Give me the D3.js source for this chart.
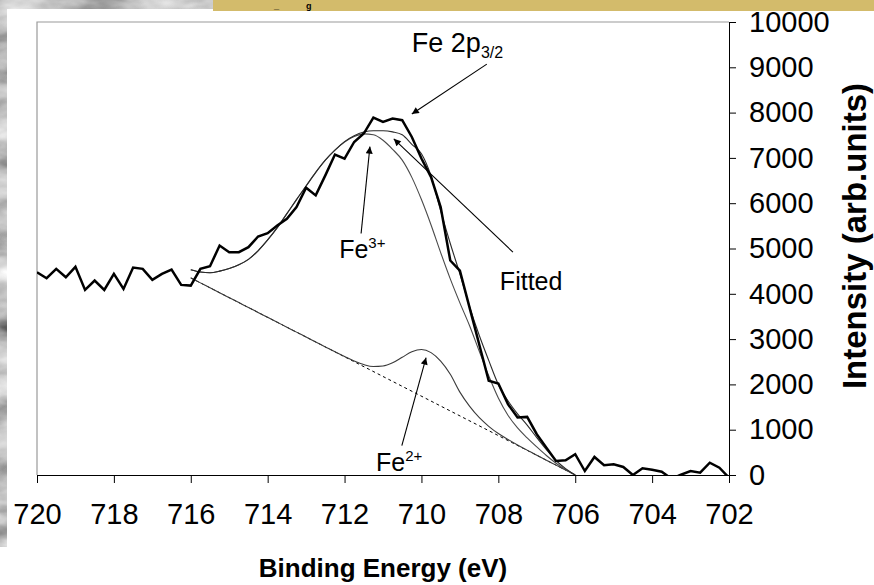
<!DOCTYPE html>
<html>
<head>
<meta charset="utf-8">
<script src="https://cdn.jsdelivr.net/npm/d3@7"></script>
<style>
  html, body { margin: 0; padding: 0; background: #ffffff; }
  svg { display: block; }
  text { font-family: "Liberation Sans", Arial, Helvetica, sans-serif; fill: #000; }
</style>
</head>
<body>
<svg id="chart" width="874" height="585"></svg>
<script>
// ---- Measured Fe 2p3/2 spectrum (binding energy in eV, intensity in arb. units) ----
const rawEnergy = [
  720, 719.75, 719.5, 719.25, 719, 718.75, 718.5, 718.25, 718, 717.75,
  717.5, 717.25, 717, 716.75, 716.5, 716.25, 716, 715.75, 715.5, 715.25,
  715, 714.75, 714.5, 714.25, 714, 713.75, 713.5, 713.25, 713, 712.75,
  712.5, 712.25, 712, 711.75, 711.5, 711.25, 711, 710.75, 710.5, 710.25,
  710, 709.75, 709.5, 709.25, 709, 708.75, 708.5, 708.25, 708, 707.75,
  707.5, 707.25, 707, 706.75, 706.5, 706.25, 706, 705.75, 705.5, 705.25,
  705, 704.75, 704.5, 704.25, 704, 703.75, 703.5, 703.25, 703, 702.75,
  702.5, 702.25, 702
];
const rawIntensity = [
  4476, 4343, 4551, 4365, 4595, 4086, 4292, 4086, 4440, 4108,
  4580, 4551, 4308, 4440, 4535, 4197, 4181, 4551, 4608, 5066,
  4918, 4918, 5029, 5265, 5338, 5509, 5657, 5914, 6343, 6173,
  6615, 7073, 6985, 7352, 7538, 7892, 7794, 7869, 7832, 7462,
  6985, 6577, 5914, 4735, 4513, 3701, 2892, 2080, 2020, 1564,
  1268, 1283, 900, 604, 310, 325, 458, 88, 398, 215,
  237, 177, 0, 148, 117, 73, -80, 5, 88, 51,
  272, 162, -60
];

// ---- Fit over 716 – 706 eV ----
const fitEnergy = [
  716, 715.75, 715.5, 715.25, 715, 714.75, 714.5, 714.25, 714, 713.75,
  713.5, 713.25, 713, 712.75, 712.5, 712.25, 712, 711.75, 711.5, 711.25,
  711, 710.75, 710.5, 710.25, 710, 709.75, 709.5, 709.25, 709, 708.75,
  708.5, 708.25, 708, 707.75, 707.5, 707.25, 707, 706.75, 706.5, 706.25,
  706
];
const fittedIntensity = [
  4530, 4480, 4465, 4500, 4560, 4640, 4760, 4950, 5190, 5460,
  5770, 6080, 6380, 6680, 6950, 7170, 7360, 7490, 7570, 7600,
  7600, 7575, 7510, 7300, 7090, 6600, 5830, 5110, 4440, 3720,
  3090, 2530, 2000, 1640, 1350, 1100, 825, 560, 320, 140,
  0
];
const fe3Intensity = [
  4530, 4480, 4465, 4500, 4560, 4640, 4760, 4950, 5190, 5460,
  5770, 6080, 6380, 6680, 6950, 7170, 7350, 7470, 7530, 7510,
  7390, 7190, 6950, 6570, 6080, 5520, 4910, 4330, 3800, 3300,
  2740, 2190, 1700, 1320, 1040, 820, 620, 430, 260, 120,
  0
];
const fe2Intensity = [
  4350, 4241, 4133, 4024, 3915, 3806, 3698, 3589, 3480, 3371,
  3263, 3154, 3045, 2936, 2828, 2719, 2615, 2516, 2438, 2394,
  2405, 2476, 2598, 2719, 2770, 2701, 2513, 2224, 1830, 1520,
  1270, 1075, 915, 785, 663, 549, 435, 326, 218, 109,
  0
];
// Linear background under the peak
const backgroundEnergy = [716, 706];
const backgroundIntensity = [4350, 0];

// ---- Axes ----
const xTicks = [720, 718, 716, 714, 712, 710, 708, 706, 704, 702];
const yTicks = [0, 1000, 2000, 3000, 4000, 5000, 6000, 7000, 8000, 9000, 10000];
const xTitle = "Binding Energy (eV)";
const yTitle = "Intensity (arb.units)";

// ---- Labels with arrows (anchor and arrow ends in data units) ----
const annotations = [
  { main: "Fe 2p", sub: "3/2", script: "sub", size: 27, tx: 710.25, ty: 9330,
    from: [708.3, 9070], to: [710.25, 7970] },
  { main: "Fe", sub: "3+", script: "sup", size: 25, tx: 712.14, ty: 4780,
    from: [711.57, 5330], to: [711.34, 7250] },
  { main: "Fitted", sub: "", script: "", size: 25, tx: 707.96, ty: 4080,
    from: [707.62, 4920], to: [710.72, 7420] },
  { main: "Fe", sub: "2+", script: "sup", size: 25, tx: 711.18, ty: 80,
    from: [710.51, 650], to: [709.88, 2590] }
];

// ---- Layout ----
const W = 874, H = 585;
const plot = { left: 37, right: 729, top: 22, bottom: 475 };

const svg = d3.select("#chart");
const defs = svg.append("defs");

// Marbled grey texture for the slide backdrop
const tex = defs.append("filter").attr("id", "marble")
  .attr("x", 0).attr("y", 0).attr("width", "100%").attr("height", "100%");
tex.append("feTurbulence").attr("type", "fractalNoise")
  .attr("baseFrequency", "0.015 0.035").attr("numOctaves", 4).attr("seed", 11).attr("result", "n");
tex.append("feColorMatrix").attr("in", "n").attr("type", "matrix")
  .attr("values", "0.8 0.8 0 0 -0.27  0.8 0.8 0 0 -0.27  0.8 0.8 0 0 -0.27  0 0 0 0 1");

svg.append("rect").attr("x", 0).attr("y", 0).attr("width", 214).attr("height", 9)
  .attr("filter", "url(#marble)");
svg.append("rect").attr("x", 0).attr("y", 0).attr("width", 7).attr("height", 547)
  .attr("filter", "url(#marble)");

// Title banner strip
svg.append("rect").attr("x", 213).attr("y", 0).attr("width", W - 213).attr("height", 11)
  .attr("fill", "#d3bb6b");
const bannerText = svg.append("text").attr("y", 9).attr("font-size", 9)
  .attr("font-weight", "bold").attr("fill", "#1e1e1e");
bannerText.append("tspan").attr("x", 274).text("_");
bannerText.append("tspan").attr("x", 306).text("g");

// Scales
const x = d3.scaleLinear().domain([720, 702]).range([plot.left, plot.right]);
const y = d3.scaleLinear().domain([0, 10000]).range([plot.bottom, plot.top]);

// Plot frame (top and left edges in grey)
svg.append("path")
  .attr("d", `M${plot.left},${plot.bottom} V${plot.top} H${plot.right}`)
  .attr("fill", "none").attr("stroke", "#9a9a9a").attr("stroke-width", 1.2);

defs.append("clipPath").attr("id", "plotClip").append("rect")
  .attr("x", plot.left).attr("y", plot.top)
  .attr("width", plot.right - plot.left).attr("height", plot.bottom - plot.top);

const g = svg.append("g").attr("clip-path", "url(#plotClip)");

const zip = (es, vs) => es.map((e, i) => [e, vs[i]]);
const smooth = d3.line().x(d => x(d[0])).y(d => y(d[1])).curve(d3.curveMonotoneX);
const straight = d3.line().x(d => x(d[0])).y(d => y(d[1]));

// Background (dashed)
g.append("path").datum(zip(backgroundEnergy, backgroundIntensity))
  .attr("d", straight).attr("fill", "none")
  .attr("stroke", "#000").attr("stroke-width", 1).attr("stroke-dasharray", "3,3");

// Fe2+ component
g.append("path").datum(zip(fitEnergy, fe2Intensity))
  .attr("d", smooth).attr("fill", "none").attr("stroke", "#3a3a3a").attr("stroke-width", 1.1);

// Fe3+ component
g.append("path").datum(zip(fitEnergy, fe3Intensity))
  .attr("d", smooth).attr("fill", "none").attr("stroke", "#4a4a4a").attr("stroke-width", 1.1);

// Fitted envelope
g.append("path").datum(zip(fitEnergy, fittedIntensity))
  .attr("d", smooth).attr("fill", "none").attr("stroke", "#2a2a2a").attr("stroke-width", 1.1);

// Measured spectrum
g.append("path").datum(zip(rawEnergy, rawIntensity))
  .attr("d", straight).attr("fill", "none").attr("stroke", "#000")
  .attr("stroke-width", 2.5).attr("stroke-linejoin", "miter");

// Right-hand intensity axis
const yAxis = svg.append("g").attr("transform", `translate(${plot.right},0)`)
  .call(d3.axisRight(y).tickValues(yTicks).tickFormat(d3.format("d"))
    .tickSize(7).tickSizeOuter(0).tickPadding(13));
yAxis.selectAll("text").attr("font-size", 29).attr("font-family", null);
yAxis.selectAll("line, path").attr("stroke", "#000");

// Bottom energy axis
const xAxis = svg.append("g").attr("transform", `translate(0,${plot.bottom})`)
  .call(d3.axisBottom(x).tickValues(xTicks).tickFormat(d3.format("d"))
    .tickSize(8).tickSizeOuter(0).tickPadding(20));
xAxis.selectAll("text").attr("font-size", 29).attr("font-family", null);
xAxis.selectAll("line, path").attr("stroke", "#000");

// Axis titles
svg.append("text").attr("x", 383).attr("y", 577).attr("text-anchor", "middle")
  .attr("font-size", 26).attr("font-weight", "bold").text(xTitle);
svg.append("text").attr("transform", "translate(866,236) rotate(-90)")
  .attr("text-anchor", "middle").attr("font-size", 33).attr("font-weight", "bold").text(yTitle);

// Arrow marker
defs.append("marker").attr("id", "arrow").attr("viewBox", "0 0 10 10")
  .attr("refX", 10).attr("refY", 5).attr("markerWidth", 9).attr("markerHeight", 7)
  .attr("markerUnits", "userSpaceOnUse").attr("orient", "auto")
  .append("path").attr("d", "M0,0 L10,5 L0,10 Z").attr("fill", "#000");

const ann = svg.append("g");
annotations.forEach(a => {
  ann.append("line")
    .attr("x1", x(a.from[0])).attr("y1", y(a.from[1]))
    .attr("x2", x(a.to[0])).attr("y2", y(a.to[1]))
    .attr("stroke", "#000").attr("stroke-width", 1.1).attr("marker-end", "url(#arrow)");
  const t = ann.append("text").attr("x", x(a.tx)).attr("y", y(a.ty)).attr("font-size", a.size);
  t.append("tspan").text(a.main);
  if (a.sub) {
    t.append("tspan").attr("font-size", Math.round(a.size * 0.6))
      .attr("dy", a.script === "sub" ? 6 : -10).text(a.sub);
  }
});
</script>
</body>
</html>
